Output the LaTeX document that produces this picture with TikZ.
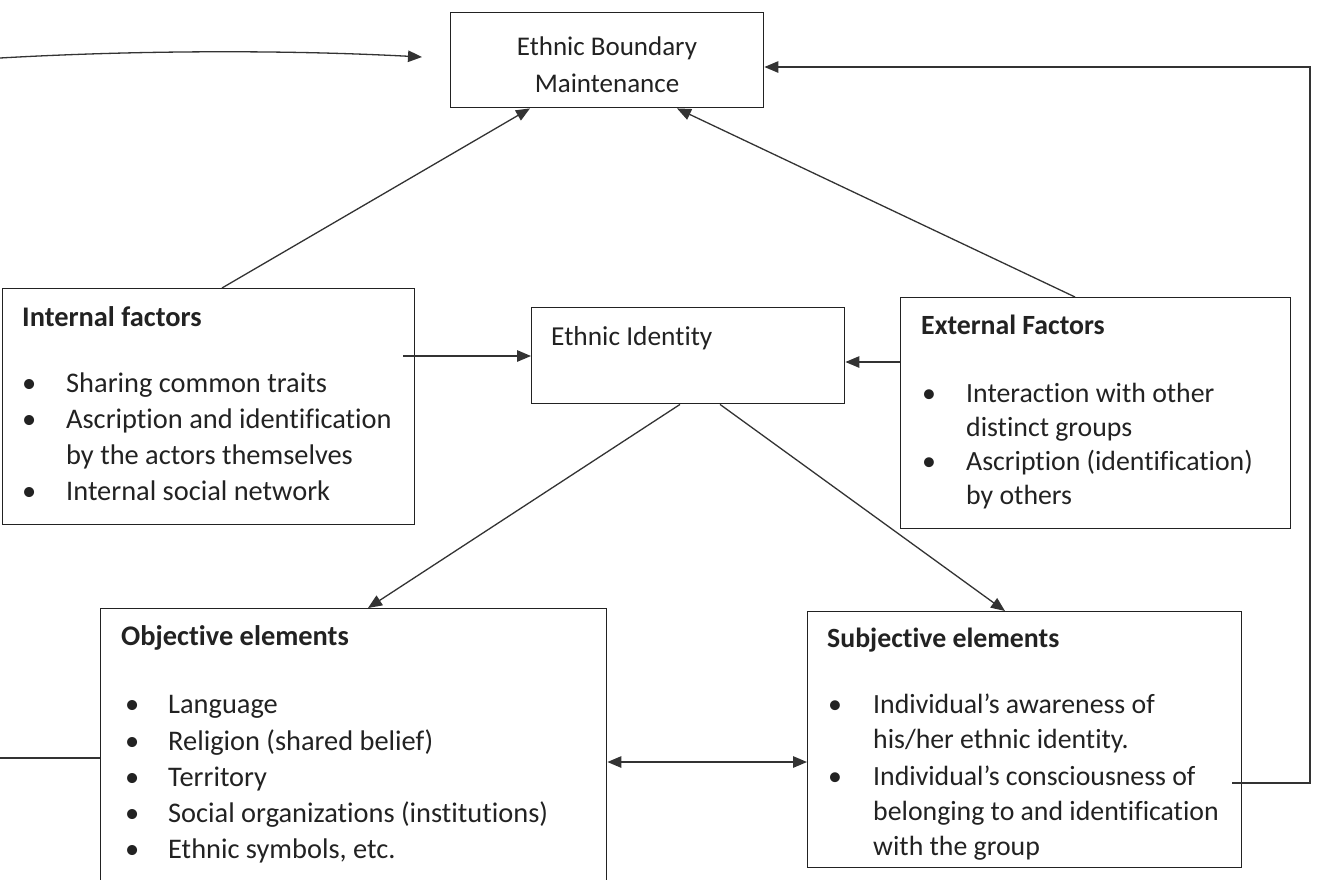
\documentclass[tikz,border=0pt]{standalone}
\usepackage{fontspec}
\setmainfont{Carlito}[Ligatures={NoCommon}]
\usetikzlibrary{arrows.meta,calc}
\newcommand\myfs{\fontsize{28.4}{36}\selectfont}
\newcommand\myfsx{\fontsize{27.8}{36}\selectfont}
\newcommand\myfsc{\fontsize{27}{36}\selectfont}
\definecolor{ink}{HTML}{222222}
\definecolor{lineg}{HTML}{333333}
\tikzset{
  box/.style={draw=ink, line width=1.4pt, anchor=north west, inner sep=0pt},
  txt/.style={anchor=base west, inner sep=0pt, font=\myfs, text=ink},
  xtxt/.style={anchor=base west, inner sep=0pt, font=\myfsx, text=ink},
  ctxt/.style={anchor=base, inner sep=0pt, font=\myfsc, text=ink},
  conn/.style={draw=lineg, line width=1.3pt},
  tip/.style={-{Triangle[length=14pt,width=11.5pt]}},
  dtip/.style={{Triangle[length=14pt,width=11.5pt]}-{Triangle[length=14pt,width=11.5pt]}},
}
\begin{document}
\begin{tikzpicture}[x=1pt,y=-1pt]
\path[use as bounding box, clip] (0,0) rectangle (1324,879);
\fill[white] (0,0) rectangle (1324,879);

% boxes
\node[box, minimum width=313pt, minimum height=95pt] (ebm) at (450,12) {};
\node[box, minimum width=412pt, minimum height=236pt] (int) at (2,288) {};
\node[box, minimum width=313pt, minimum height=96pt] (ei) at (531,307) {};
\node[box, minimum width=390pt, minimum height=231pt] (ext) at (900,297) {};
\node[box, minimum width=506pt, minimum height=300pt] (obj) at (100,608) {};
\node[box, minimum width=434pt, minimum height=256pt] (subj) at (807,611) {};

% EBM text
\node[ctxt] (ebm1) at (607,55) {Ethnic Boundary};
\node[ctxt] (ebm2) at (607,92) {Maintenance};

% Ethnic identity
\node[xtxt, font=\fontsize{27.4}{36}\selectfont] (ei1) at (551,345) {Ethnic Identity};

% Internal factors
\node[txt] (in0) at (22,326) {\textbf{Internal factors}};
\node[txt] (inb1) at (22,392) {•};
\node[txt] (in1) at (66,392) {Sharing common traits};
\node[txt] (inb2) at (22,428) {•};
\node[txt] (in2) at (66,428) {Ascription and identification};
\node[txt] (in3) at (66,464) {by the actors themselves};
\node[txt] (inb4) at (22,500) {•};
\node[txt] (in4) at (66,500) {Internal social network};

% External factors
\node[xtxt] (ex0) at (921,334) {\textbf{External Factors}};
\node[xtxt] (exb1) at (922,402) {•};
\node[xtxt] (ex1) at (966,402) {Interaction with other};
\node[xtxt] (ex2) at (966,436) {distinct groups};
\node[xtxt] (exb3) at (922,470) {•};
\node[xtxt] (ex3) at (966,470) {Ascription (identification)};
\node[xtxt] (ex4) at (966,504) {by others};

% Objective elements
\node[txt] (ob0) at (121,645) {\textbf{Objective elements}};
\node[txt] (obb1) at (125,713) {•};
\node[txt] (ob1) at (168,713) {Language};
\node[txt] (obb2) at (125,750) {•};
\node[txt] (ob2) at (168,750) {Religion (shared belief)};
\node[txt] (obb3) at (125,786) {•};
\node[txt] (ob3) at (168,786) {Territory};
\node[txt] (obb4) at (125,822) {•};
\node[txt] (ob4) at (168,822) {Social organizations (institutions)};
\node[txt] (obb5) at (125,858) {•};
\node[txt] (ob5) at (168,858) {Ethnic symbols, etc.};

% Subjective elements
\node[xtxt] (su0) at (827,647) {\textbf{Subjective elements}};
\node[xtxt] (sub1) at (828,713) {•};
\node[xtxt] (su1) at (873,713) {Individual’s awareness of};
\node[xtxt] (su2) at (873,748) {his/her ethnic identity.};
\node[xtxt] (sub3) at (828,785) {•};
\node[xtxt] (su3) at (873,785) {Individual’s consciousness of};
\node[xtxt] (su4) at (873,820) {belonging to and identification};
\node[xtxt] (su5) at (873,855) {with the group};

% connectors
\coordinate (cL) at (0,58);
\coordinate (cR) at (422,57);
\draw[conn,tip] (cL) .. controls (140,50) and (290,50) .. (cR);

\draw[conn,tip] ($(int.north west)+(220,0)$) -- ($(ebm.south west)+(80,0)$);
\draw[conn,tip] ($(ext.north west)+(175,0)$) -- ($(ebm.south west)+(227,0)$);

\coordinate (ia) at ($(int.north west)+(401,68)$);
\draw[conn,tip] (ia) -- (ia -| ei.west);
\coordinate (ea) at ($(ext.north west)+(0,65)$);
\draw[conn,tip] (ea) -- (ea -| ei.east);

\draw[conn,tip] ($(ei.south west)+(149,0)$) -- ($(obj.north west)+(268,0)$);
\draw[conn,tip] ($(ei.south west)+(189,0)$) -- ($(subj.north west)+(198,0)$);

\coordinate (oa) at ($(obj.north east)+(0,154)$);
\draw[conn,dtip] (oa) -- (oa -| subj.west);

\coordinate (sa) at ($(subj.north east)+(-10,172)$);
\coordinate (r1) at (1310,783);
\coordinate (r2) at (1310,67);
\draw[conn,tip] (sa) -- (r1) -- (r2) -- (r2 -| ebm.east);

\coordinate (lL) at (0,758);
\draw[conn] (lL) -- (lL -| obj.west);
\end{tikzpicture}
\end{document}
